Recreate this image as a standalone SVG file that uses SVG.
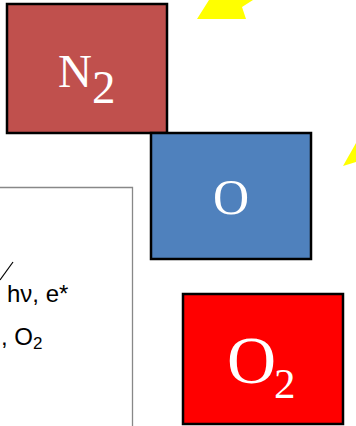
<svg xmlns="http://www.w3.org/2000/svg" width="356" height="426" viewBox="0 0 356 426">
<style>
.box{stroke:#000;stroke-width:2.5}
.lbl{font-family:"Liberation Serif","Times New Roman",serif;fill:#fff}
.leg{font-family:"Liberation Sans",Arial,sans-serif;font-size:24px;fill:#000}
</style>
<rect width="356" height="426" fill="#fff"/>
<g id="legend">
<path d="M-2 187.5 H132.5 V426" fill="none" stroke="#888" stroke-width="1.3"/>
<text class="leg" x="7" y="302">hν, e*</text>
<text class="leg" x="1" y="345">, O<tspan font-size="17" dy="4">2</tspan></text>
</g>
<g id="connectors">
<line x1="13" y1="262" x2="0" y2="280" stroke="#000" stroke-width="1.2"/>
<polygon points="197,19 209,0 253,0 242,7 246,19" fill="#ffff00"/>
<polygon points="343,166 356,143 356,162" fill="#ffff00"/>
</g>
<g id="N2">
<rect class="box" x="7" y="4" width="160" height="129" fill="#C0504D"/>
<text class="lbl" font-size="47" x="58" y="87">N<tspan x="92" y="103">2</tspan></text>
</g>
<g id="O">
<rect class="box" x="151" y="133" width="160" height="126" fill="#4F81BD"/>
<text class="lbl" font-size="50" x="231" y="214" text-anchor="middle">O</text>
</g>
<g id="O2">
<rect class="box" x="183" y="294" width="160" height="130" fill="#FF0000"/>
<text class="lbl" font-size="68" x="227" y="383">O<tspan font-size="43" x="274" y="398">2</tspan></text>
</g>
</svg>
